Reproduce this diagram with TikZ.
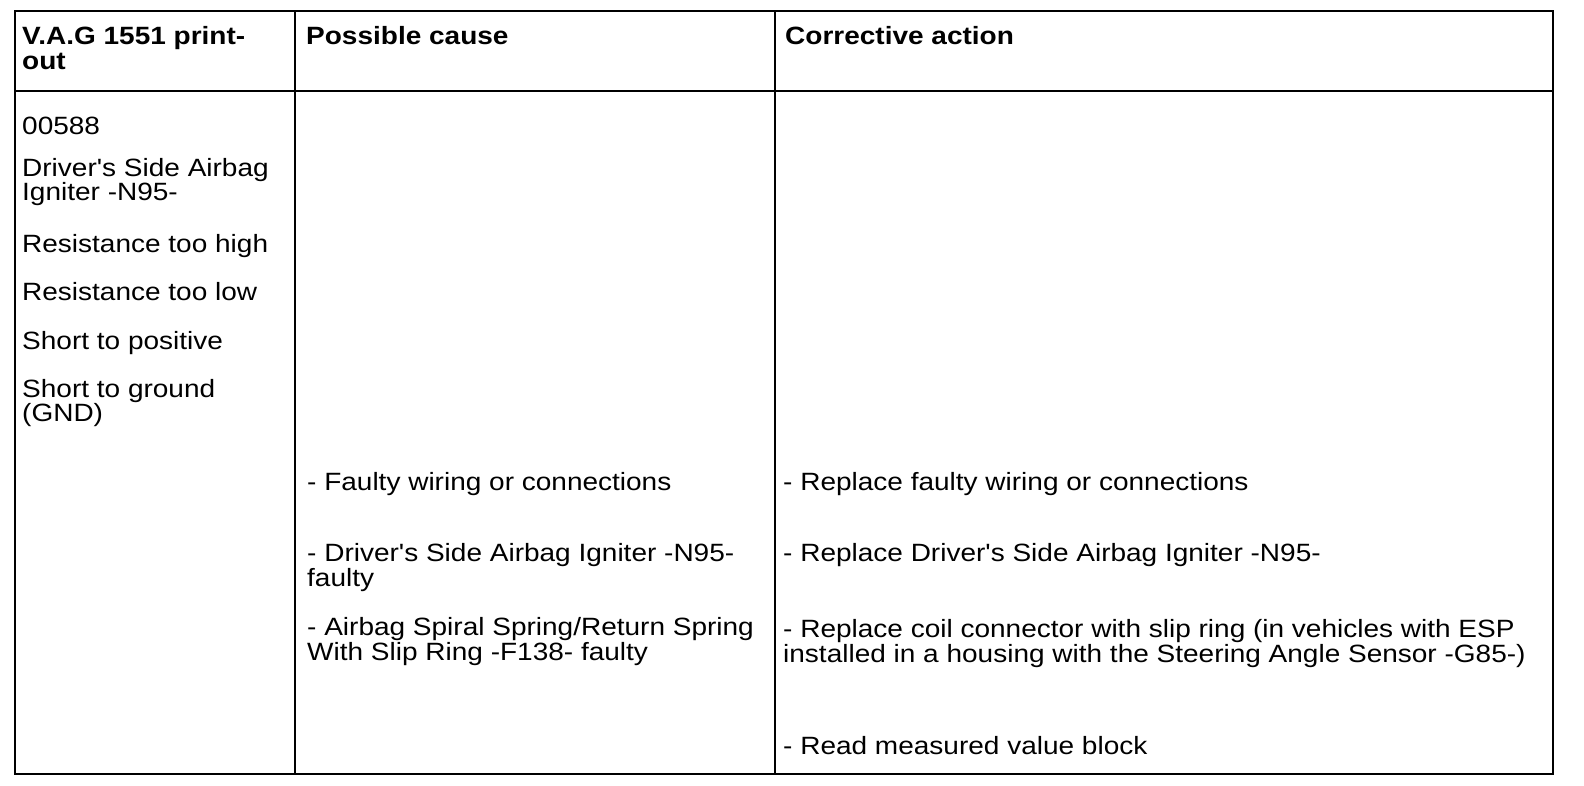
\documentclass[tikz,border=0pt]{standalone}
\usepackage{fontspec}
\newfontfamily\tabfont{Liberation Sans}[FakeStretch=1.12]
\begin{document}
\begin{tikzpicture}[x=1pt,y=-1pt,
  txt/.style={anchor=base west, inner sep=0pt, font=\tabfont\fontsize{25}{25}\selectfont},
  hdr/.style={anchor=base west, inner sep=0pt, font=\tabfont\fontsize{25}{25}\selectfont\bfseries},
  rule/.style={line width=2pt, draw=black}]
\fill[white] (0,0) rectangle (1584,786);
\useasboundingbox (0,0) rectangle (1584,786);
% table frame
\draw[rule] (14.5,11) rectangle (1553.3,773.7);
\draw[rule] (14.5,91.2) -- (1553.3,91.2);
\draw[rule] (295.2,11) -- (295.2,773.7);
\draw[rule] (775.2,11) -- (775.2,773.7);
% header
\node[hdr] (h1a) at (22,45) {V.A.G 1551 print-};
\node[hdr] (h1b) at (22,70) {out};
\node[hdr] (h2) at (306,45) {Possible cause};
\node[hdr] (h3) at (785,45) {Corrective action};
% column 1
\node[txt] (a1) at (22,135) {00588};
\node[txt] (a2) at (22,177) {Driver's Side Airbag};
\node[txt] (a3) at (22,201) {Igniter -N95-};
\node[txt] (a4) at (22,253) {Resistance too high};
\node[txt] (a5) at (22,301) {Resistance too low};
\node[txt] (a6) at (22,349) {Short to positive};
\node[txt] (a7) at (22,397) {Short to ground};
\node[txt] (a8) at (22,421) {(GND)};
% column 2
\node[txt] (b1) at (307,490) {- Faulty wiring or connections};
\node[txt] (b2) at (307,561) {- Driver's Side Airbag Igniter -N95-};
\node[txt] (b3) at (307,586) {faulty};
\node[txt] (b4) at (307,635) {- Airbag Spiral Spring/Return Spring};
\node[txt] (b5) at (307,660) {With Slip Ring -F138- faulty};
% column 3
\node[txt] (c1) at (783,490) {- Replace faulty wiring or connections};
\node[txt] (c2) at (783,561) {- Replace Driver's Side Airbag Igniter -N95-};
\node[txt] (c3) at (783,637) {- Replace coil connector with slip ring (in vehicles with ESP};
\node[txt] (c4) at (783,662) {installed in a housing with the Steering Angle Sensor -G85-)};
\node[txt] (c5) at (783,754) {- Read measured value block};
\end{tikzpicture}
\end{document}
